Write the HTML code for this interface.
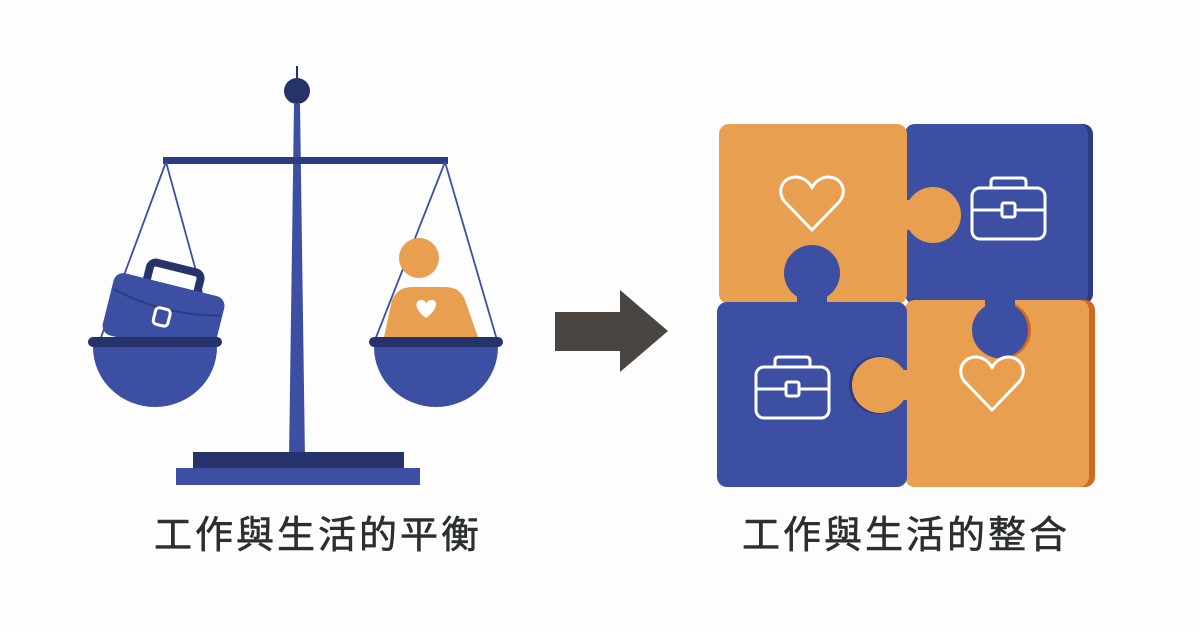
<!DOCTYPE html>
<html><head><meta charset="utf-8"><style>
html,body{margin:0;padding:0;background:#fdfdfd;}
svg{display:block}
</style></head><body>
<svg width="1200" height="633" viewBox="0 0 1200 633" xmlns="http://www.w3.org/2000/svg">
<rect width="1200" height="633" fill="#fdfdfd"/>
<!-- scale -->
<line x1="297" y1="66" x2="297" y2="92" stroke="#26336a" stroke-width="2"/>
<circle cx="297" cy="91" r="13" fill="#26336a"/>
<polygon points="294,104 300,104 305,460 289,460" fill="#3c4fa3"/>
<rect x="163" y="157" width="285" height="7" fill="#2d3b80"/>
<g stroke="#3c4fa3" stroke-width="1.8" fill="none">
<line x1="166" y1="162" x2="100" y2="340"/><line x1="166" y1="162" x2="215" y2="340"/>
<line x1="445" y1="162" x2="375" y2="340"/><line x1="445" y1="162" x2="497" y2="340"/>
</g>
<!-- briefcase -->
<g transform="rotate(14 165 310)">
<rect x="140" y="266" width="52" height="30" rx="6" fill="none" stroke="#26336a" stroke-width="8"/>
<rect x="108" y="284" width="114" height="64" rx="10" fill="#3c4fa3"/>
<path d="M110 302 Q165 316 220 302" stroke="#2d3b80" stroke-width="2" fill="none"/>
<rect x="156" y="309" width="15" height="17" rx="4" fill="none" stroke="#fff" stroke-width="3"/>
</g>
<!-- person -->
<circle cx="419" cy="258" r="20" fill="#e8a050"/>
<path d="M384 337 L392 300 Q398 287 412 287 L445 287 Q460 287 465 300 L478 337 Z" fill="#e8a050"/>
<path d="M426 318 C412 308 416 299 422 300 C425 300 426 303 426 304 C426 303 428 300 431 300 C437 299 440 308 426 318Z" fill="#fff"/>
<!-- pans -->
<path d="M93 347 A62 60 0 0 0 217 347 Z" fill="#3c4fa3"/>
<rect x="88" y="337" width="134" height="10" rx="5" fill="#26336a"/>
<path d="M374 347 A62 60 0 0 0 498 347 Z" fill="#3c4fa3"/>
<rect x="369" y="337" width="134" height="10" rx="5" fill="#26336a"/>
<rect x="193" y="452" width="211" height="16" fill="#26336a"/>
<rect x="176" y="468" width="244" height="17" fill="#3c4fa3"/>
<!-- arrow -->
<rect x="555" y="312" width="70" height="39" fill="#4a4540"/>
<polygon points="620,290 668,331 620,372" fill="#4a4540"/>
<!-- puzzle -->
<rect x="905" y="124" width="188" height="180" rx="10" fill="#2d3b80"/>
<rect x="905" y="124" width="183" height="180" rx="10" fill="#3c4fa3"/>
<rect x="905" y="300" width="190" height="187" rx="10" fill="#d06a20"/>
<rect x="905" y="300" width="184" height="187" rx="10" fill="#e8a050"/>
<rect x="719" y="124" width="188" height="180" rx="10" fill="#e8a050"/>
<circle cx="933" cy="215" r="28" fill="#e8a050"/>
<rect x="900" y="200" width="20" height="30" fill="#e8a050"/>
<rect x="717" y="302" width="190" height="185" rx="10" fill="#3c4fa3"/>
<circle cx="812" cy="273" r="28" fill="#3c4fa3"/>
<rect x="797" y="290" width="30" height="15" fill="#3c4fa3"/>
<circle cx="1002" cy="330" r="29" fill="#d06a20"/>
<circle cx="1000" cy="330" r="28" fill="#3c4fa3"/>
<rect x="985" y="300" width="30" height="12" fill="#3c4fa3"/>
<circle cx="878" cy="385" r="29" fill="#2d3b80"/>
<circle cx="880" cy="385" r="28" fill="#e8a050"/>
<rect x="895" y="370" width="14" height="30" fill="#e8a050"/>
<g fill="none" stroke="#fff" stroke-width="3" stroke-linejoin="round">
<path d="M812 230 L785 202 C775 190 784 176 797 177 C805 178 810 183 812 188 C814 183 819 178 827 177 C840 176 849 190 839 202 Z"/>
<path d="M992 410 L965 382 C955 370 964 356 977 357 C985 358 990 363 992 368 C994 363 999 358 1007 357 C1020 356 1029 370 1019 382 Z"/>
<rect x="972" y="188" width="73" height="51" rx="8"/><path d="M991 188 V182 Q991 178 995 178 H1022 Q1026 178 1026 182 V188"/><path d="M972 210 H1045"/><rect x="1002" y="203" width="13" height="14" rx="2" fill="#3c4fa3"/>
<rect x="756" y="367" width="73" height="51" rx="8"/><path d="M775 367 V361 Q775 357 779 357 H806 Q810 357 810 361 V367"/><path d="M756 389 H829"/><rect x="786" y="382" width="13" height="14" rx="2" fill="#3c4fa3"/>
</g>
<g font-family="'Liberation Sans','Noto Sans CJK TC',sans-serif" font-size="38" fill="#2b2f2f" stroke="#2b2f2f" stroke-width="0.6" text-anchor="middle">
<text x="318" y="548" letter-spacing="3">工作與生活的平衡</text>
<text x="906" y="548" letter-spacing="3">工作與生活的整合</text>
</g>
</svg>
</body></html>
